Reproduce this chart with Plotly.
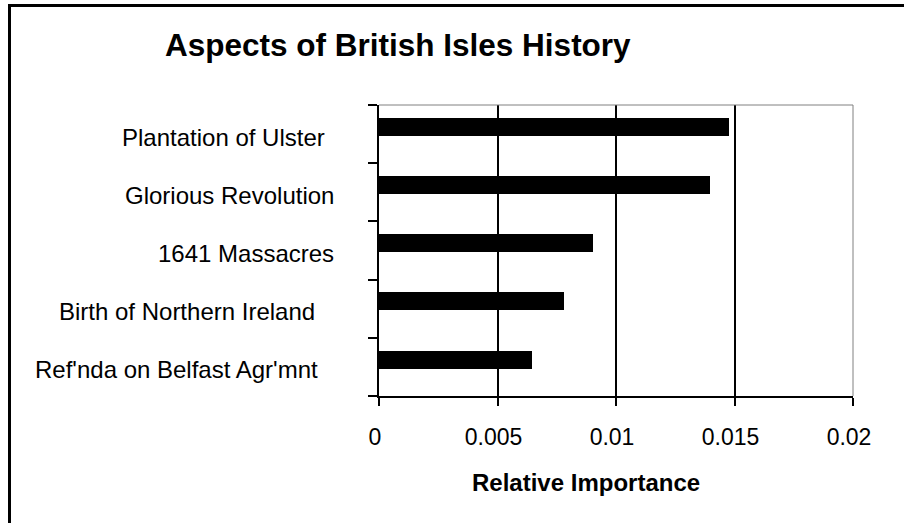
import plotly.graph_objects as go

# data (bottom-to-top order on the category axis)
categories = ["Ref'nda on Belfast Agr'mnt", "Birth of Northern Ireland",
              "1641 Massacres", "Glorious Revolution", "Plantation of Ulster"]
importance = [0.00644, 0.00779, 0.00903, 0.01397, 0.01477]
x_ticks = [0, 0.005, 0.01, 0.015, 0.02]
x_tick_labels = ["0", "0.005", "0.01", "0.015", "0.02"]
title_text = "Aspects of British Isles History"
x_title = "Relative Importance"

# style / layout
W, H = 904, 523
L, R, T, B = 379, 853, 105, 396
label_right_px = [320, 317, 336, 336, 327]
FONT = "Liberation Sans, Arial, sans-serif"

fig = go.Figure()
fig.add_trace(go.Bar(
    y=categories, x=importance, orientation="h",
    marker=dict(color="black", line=dict(width=0)),
    width=0.31, offset=-0.029, showlegend=False,
))

def px_x(p):
    return (p - L) / (R - L)

def px_y(p):
    return (B - p) / (B - T)

annotations = []
for cat, rpx in zip(categories, label_right_px):
    annotations.append(dict(
        x=px_x(rpx), xref="paper", y=cat, yref="y", text=cat,
        xanchor="right", yanchor="middle", showarrow=False, yshift=-3,
        font=dict(family=FONT, size=24, color="black"),
    ))
annotations.append(dict(
    x=px_x(398), xref="paper", y=px_y(45), yref="paper", text="<b>%s</b>" % title_text,
    xanchor="center", yanchor="middle", showarrow=False,
    font=dict(family=FONT, size=31.5, color="black"),
))
annotations.append(dict(
    x=px_x(586), xref="paper", y=px_y(482), yref="paper", text="<b>%s</b>" % x_title,
    xanchor="center", yanchor="middle", showarrow=False,
    font=dict(family=FONT, size=24, color="black"),
))

shapes = [
    # outer frame (left + top edges visible)
    dict(type="line", xref="paper", yref="paper", x0=px_x(9.5), x1=px_x(9.5),
         y0=px_y(4), y1=px_y(530), line=dict(color="black", width=3)),
    dict(type="line", xref="paper", yref="paper", x0=px_x(8), x1=px_x(910),
         y0=px_y(5.5), y1=px_y(5.5), line=dict(color="black", width=3)),
    # grey top and right plot border
    dict(type="line", xref="paper", yref="paper", x0=0, x1=1, y0=1, y1=1,
         line=dict(color="#808080", width=1), layer="above"),
    dict(type="line", xref="paper", yref="paper", x0=1, x1=1, y0=0, y1=1,
         line=dict(color="#808080", width=1), layer="above"),
]

fig.update_layout(
    width=W, height=H,
    margin=dict(l=L, r=W - R, t=T, b=H - B, pad=0),
    paper_bgcolor="white", plot_bgcolor="white",
    font=dict(family=FONT, size=22, color="black"),
    annotations=annotations, shapes=shapes,
    bargap=0,
)
fig.update_xaxes(
    range=[0, 0.02], tickvals=x_ticks, ticktext=x_tick_labels,
    showgrid=True, gridcolor="black", gridwidth=2,
    showline=True, linecolor="black", linewidth=2,
    ticks="outside", ticklen=8, tickwidth=2, tickcolor="black",
    zeroline=False, ticklabelstandoff=11, ticklabelshift=-4,
    tickfont=dict(family=FONT, size=23, color="black"),
)
fig.update_yaxes(
    type="category", categoryorder="array", categoryarray=categories,
    range=[-0.5, 4.5], showticklabels=False,
    showgrid=False, showline=True, linecolor="black", linewidth=2,
    ticks="outside", ticklen=9, tickwidth=2, tickcolor="black",
    tickson="boundaries", zeroline=False,
)

fig.write_html(
    "out.html",
    config={"displayModeBar": False, "staticPlot": True},
    post_script="document.body.style.margin='0';document.body.style.overflow='hidden';",
)
